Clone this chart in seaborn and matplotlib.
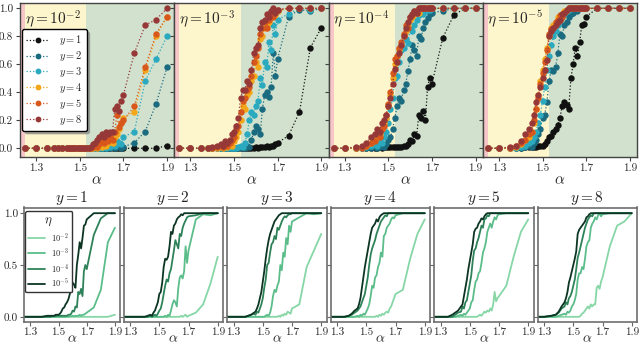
import pandas as pd
import matplotlib.pyplot as plt
import seaborn as sns
from matplotlib.lines import Line2D

# alpha grid shared by all runs
alpha = [1.25, 1.30, 1.35, 1.38, 1.40, 1.42, 1.44, 1.45, 1.46, 1.47, 1.48, 1.49,
         1.50, 1.51, 1.52, 1.53, 1.54, 1.55, 1.56, 1.57, 1.58, 1.59, 1.60, 1.61,
         1.62, 1.63, 1.64, 1.65, 1.66, 1.67, 1.68, 1.69, 1.70, 1.75, 1.80, 1.85, 1.90]

y_values = ['1', '2', '3', '4', '5', '8']
eta_labels = ['10^{-2}', '10^{-3}', '10^{-4}', '10^{-5}']

# eta = 1e-2
eta_2 = {
    '1': [0, 0, 0, 0, 0, 0, 0, 0, 0, 0, 0, 0,
          0, 0, 0, 0, 0, 0, 0, 0, 0, 0, 0, 0,
          0, 0, 0, 0, 0, 0, 0, 0, 0, 0, 0, 0, 0.02],
    '2': [0, 0, 0, 0, 0, 0, 0, 0, 0, 0, 0, 0,
          0, 0, 0, 0, 0, 0, 0, 0, 0, 0, 0, 0,
          0, 0, 0, 0.01, 0, 0.01, 0.02, 0, 0.01, 0.04, 0.12, 0.32, 0.58],
    '3': [0, 0, 0, 0, 0, 0, 0, 0, 0, 0, 0, 0,
          0, 0, 0, 0, 0, 0, 0, 0, 0, 0, 0, 0.01,
          0, 0.02, 0.01, 0.03, 0.02, 0.05, 0.04, 0.03, 0.08, 0.12, 0.48, 0.64, 0.80],
    '4': [0, 0, 0, 0, 0, 0, 0, 0, 0, 0, 0, 0,
          0, 0, 0, 0, 0, 0, 0, 0.01, 0, 0.02, 0.01, 0.03,
          0.02, 0.04, 0.05, 0.04, 0.08, 0.10, 0.14, 0.18, 0.22, 0.26, 0.56, 0.80, 0.94],
    '5': [0, 0, 0, 0, 0, 0, 0, 0, 0, 0, 0, 0,
          0, 0, 0, 0, 0, 0, 0.01, 0.02, 0.01, 0.03, 0.05, 0.04,
          0.06, 0.05, 0.08, 0.06, 0.12, 0.24, 0.15, 0.18, 0.20, 0.30, 0.58, 0.82, 0.94],
    '8': [0, 0, 0, 0, 0, 0, 0, 0, 0, 0, 0, 0,
          0, 0, 0, 0, 0, 0.01, 0.03, 0.04, 0.06, 0.08, 0.10, 0.08,
          0.12, 0.10, 0.12, 0.12, 0.28, 0.30, 0.27, 0.34, 0.38, 0.68, 0.88, 0.92, 1.0],
}

# eta = 1e-3
eta_3 = {
    '1': [0, 0, 0, 0, 0, 0, 0, 0, 0, 0, 0, 0,
          0, 0, 0, 0, 0, 0, 0.005, 0, 0.005, 0.005, 0.01, 0.005,
          0.01, 0.01, 0.01, 0.02, 0.01, 0.02, 0.02, 0.03, 0.04, 0.09, 0.26, 0.72, 0.86],
    '2': [0, 0, 0, 0, 0, 0, 0, 0, 0, 0, 0, 0,
          0, 0, 0, 0, 0.01, 0, 0.02, 0.01, 0.06, 0.12, 0.16, 0.14,
          0.10, 0.28, 0.38, 0.40, 0.37, 0.44, 0.68, 0.52, 0.64, 0.94, 0.99, 0.98, 1.0],
    '3': [0, 0, 0, 0, 0, 0, 0, 0, 0, 0, 0, 0,
          0, 0, 0.01, 0.02, 0.01, 0.04, 0.10, 0.20, 0.26, 0.24, 0.30, 0.34,
          0.50, 0.45, 0.62, 0.58, 0.76, 0.70, 0.88, 0.82, 0.92, 0.96, 1.0, 0.99, 1.0],
    '4': [0, 0, 0, 0, 0, 0, 0.01, 0, 0.02, 0.01, 0.03, 0.02,
          0.05, 0.08, 0.12, 0.20, 0.30, 0.28, 0.38, 0.40, 0.48, 0.52, 0.62, 0.58,
          0.78, 0.80, 0.86, 0.88, 0.90, 0.94, 0.96, 0.95, 0.98, 1.0, 1.0, 1.0, 1.0],
    '5': [0, 0, 0, 0, 0, 0.01, 0.02, 0.01, 0.03, 0.02, 0.04, 0.06,
          0.08, 0.14, 0.16, 0.26, 0.34, 0.36, 0.42, 0.44, 0.52, 0.62, 0.66, 0.72,
          0.82, 0.86, 0.90, 0.86, 0.92, 0.96, 0.94, 0.98, 0.99, 1.0, 1.0, 1.0, 1.0],
    '8': [0, 0, 0, 0, 0.01, 0.02, 0.03, 0.02, 0.05, 0.04, 0.06, 0.10,
          0.12, 0.16, 0.22, 0.36, 0.42, 0.42, 0.48, 0.46, 0.56, 0.68, 0.72, 0.74,
          0.86, 0.90, 0.92, 0.96, 0.94, 0.98, 1.0, 0.97, 0.99, 1.0, 1.0, 1.0, 1.0],
}

# eta = 1e-4
eta_4 = {
    '1': [0, 0, 0, 0, 0, 0, 0, 0.005, 0.01, 0.005, 0.01, 0.01,
          0.01, 0.01, 0.01, 0.01, 0.01, 0.01, 0.01, 0.02, 0.02, 0.03, 0.06, 0.05,
          0.10, 0.09, 0.24, 0.22, 0.27, 0.20, 0.44, 0.50, 0.46, 0.79, 0.95, 1.0, 1.0],
    '2': [0, 0, 0, 0, 0, 0, 0.01, 0, 0.01, 0.02, 0.01, 0.03,
          0.06, 0.08, 0.14, 0.22, 0.30, 0.36, 0.34, 0.42, 0.46, 0.55, 0.64, 0.74,
          0.70, 0.66, 0.80, 0.78, 0.86, 0.90, 0.93, 0.96, 0.97, 0.98, 1.0, 1.0, 1.0],
    '3': [0, 0, 0, 0, 0.01, 0.02, 0.03, 0.02, 0.05, 0.04, 0.08, 0.12,
          0.18, 0.28, 0.36, 0.50, 0.52, 0.62, 0.70, 0.72, 0.78, 0.75, 0.86, 0.84,
          0.88, 0.92, 0.95, 0.97, 0.96, 0.98, 0.99, 0.99, 1.0, 1.0, 1.0, 1.0, 1.0],
    '4': [0, 0, 0, 0.01, 0.02, 0.04, 0.06, 0.08, 0.10, 0.14, 0.18, 0.22,
          0.30, 0.38, 0.50, 0.60, 0.66, 0.70, 0.74, 0.80, 0.84, 0.88, 0.92, 0.94,
          0.96, 0.98, 0.97, 1.0, 1.0, 1.0, 1.0, 1.0, 1.0, 1.0, 1.0, 1.0, 1.0],
    '5': [0, 0, 0, 0, 0.02, 0.04, 0.05, 0.10, 0.08, 0.14, 0.16, 0.24,
          0.32, 0.40, 0.54, 0.64, 0.66, 0.72, 0.76, 0.82, 0.88, 0.86, 0.94, 0.95,
          0.98, 0.97, 1.0, 1.0, 1.0, 1.0, 1.0, 1.0, 1.0, 1.0, 1.0, 1.0, 1.0],
    '8': [0, 0, 0.01, 0.02, 0.04, 0.08, 0.10, 0.14, 0.12, 0.18, 0.20, 0.24,
          0.30, 0.36, 0.46, 0.57, 0.62, 0.68, 0.74, 0.80, 0.86, 0.90, 0.94, 0.96,
          0.98, 0.97, 1.0, 1.0, 1.0, 1.0, 1.0, 1.0, 1.0, 1.0, 1.0, 1.0, 1.0],
}

# eta = 1e-5
eta_5 = {
    '1': [0, 0, 0, 0, 0.005, 0.01, 0.01, 0.01, 0.01, 0.01, 0.02, 0.02,
          0.02, 0.03, 0.05, 0.08, 0.09, 0.12, 0.14, 0.17, 0.22, 0.30, 0.33, 0.31,
          0.28, 0.50, 0.60, 0.72, 0.66, 0.76, 0.88, 0.89, 0.94, 1.0, 1.0, 1.0, 1.0],
    '2': [0, 0, 0, 0, 0, 0.01, 0.02, 0.01, 0.04, 0.06, 0.10, 0.14,
          0.22, 0.24, 0.33, 0.48, 0.56, 0.55, 0.58, 0.68, 0.82, 0.80, 0.88, 0.90,
          0.94, 0.96, 0.97, 0.99, 0.98, 1.0, 1.0, 1.0, 1.0, 1.0, 1.0, 1.0, 1.0],
    '3': [0, 0, 0, 0, 0.01, 0.02, 0.04, 0.05, 0.08, 0.12, 0.18, 0.24,
          0.34, 0.44, 0.56, 0.66, 0.74, 0.80, 0.84, 0.88, 0.92, 0.94, 0.96, 0.98,
          0.99, 1.0, 1.0, 1.0, 1.0, 1.0, 1.0, 1.0, 1.0, 1.0, 1.0, 1.0, 1.0],
    '4': [0, 0, 0, 0.01, 0.03, 0.06, 0.08, 0.12, 0.18, 0.28, 0.38, 0.48,
          0.56, 0.64, 0.72, 0.80, 0.86, 0.88, 0.90, 0.94, 0.92, 0.96, 0.98, 0.99,
          1.0, 1.0, 1.0, 1.0, 1.0, 1.0, 1.0, 1.0, 1.0, 1.0, 1.0, 1.0, 1.0],
    '5': [0, 0, 0, 0.02, 0.04, 0.06, 0.10, 0.12, 0.20, 0.28, 0.36, 0.46,
          0.54, 0.62, 0.70, 0.82, 0.85, 0.86, 0.90, 0.92, 0.95, 0.94, 0.97, 0.99,
          1.0, 1.0, 1.0, 1.0, 1.0, 1.0, 1.0, 1.0, 1.0, 1.0, 1.0, 1.0, 1.0],
    '8': [0, 0, 0.01, 0.02, 0.05, 0.10, 0.14, 0.18, 0.24, 0.33, 0.38, 0.44,
          0.50, 0.56, 0.63, 0.80, 0.84, 0.86, 0.88, 0.90, 0.92, 0.96, 0.97, 0.99,
          1.0, 1.0, 1.0, 1.0, 1.0, 1.0, 1.0, 1.0, 1.0, 1.0, 1.0, 1.0, 1.0],
}

y_colors = {'1': '#111111', '2': '#1b6b80', '3': '#2aa9bf',
            '4': '#f2a71b', '5': '#d8581c', '8': '#973838'}
eta_colors = {'10^{-2}': '#86d6a6', '10^{-3}': '#5bbd8a',
              '10^{-4}': '#2e8259', '10^{-5}': '#0c3523'}

# long table
rows = []
for eta, table in zip(eta_labels, [eta_2, eta_3, eta_4, eta_5]):
    for yv in y_values:
        for a, v in zip(alpha, table[yv]):
            rows.append({'eta': eta, 'y': yv, 'alpha': a, 'val': v})
df = pd.DataFrame(rows)

sns.set_theme(style='ticks')
plt.rcParams['font.family'] = 'cmr10'
plt.rcParams['mathtext.fontset'] = 'cm'
plt.rcParams['axes.formatter.use_mathtext'] = True
plt.rcParams['axes.unicode_minus'] = False

fig = plt.figure(figsize=(6.4, 3.47), dpi=100)
W, H = 640, 347

# ---- top row: one panel per eta ----
top_axes = []
for i, eta in enumerate(eta_labels):
    x0 = 20 + i * 154.25
    ax = fig.add_axes([x0 / W, 1 - 157 / H, 154.25 / W, 154 / H])
    top_axes.append(ax)
    ax.axvspan(1.0, 1.25, color='#f7c6c8', lw=0)
    ax.axvspan(1.25, 1.53, color='#fdf5cc', lw=0)
    ax.axvspan(1.53, 2.0, color='#d1e1cd', lw=0)
    sub = df[df['eta'] == eta]
    sns.lineplot(data=sub, x='alpha', y='val', hue='y', hue_order=y_values,
                 palette=y_colors, marker='o', markersize=4.6, markeredgewidth=0,
                 linestyle=':', linewidth=0.9, estimator=None, legend=False, ax=ax)
    ax.set_xlim(1.226, 1.933)
    ax.set_ylim(-0.062, 1.038)
    ax.set_xticks([1.3, 1.5, 1.7, 1.9])
    ax.set_yticks([0.0, 0.2, 0.4, 0.6, 0.8, 1.0])
    ax.set_xticklabels(['1.3', '1.5', '1.7', '1.9'])
    if i == 0:
        ax.set_yticklabels(['0.0', '0.2', '0.4', '0.6', '0.8', '1.0'])
    else:
        ax.set_yticklabels([])
    ax.set_xlabel(r'$\alpha$', fontsize=11, labelpad=0)
    ax.set_ylabel('')
    ax.text(0.03, 0.965, r'$\eta=' + eta + '$', transform=ax.transAxes,
            fontsize=11, va='top', ha='left')
    ax.tick_params(labelsize=8, length=3, width=0.8, color='#444444', pad=2)
    for s in ax.spines.values():
        s.set_color('#444444')
        s.set_linewidth(1.0)

handles = [Line2D([0], [0], color=y_colors[yv], marker='o', ls=':', lw=0.9,
                  ms=4.2, mew=0) for yv in y_values]
labels = [r'$y=' + yv + '$' for yv in y_values]
leg = top_axes[0].legend(handles, labels, loc='upper left', bbox_to_anchor=(0.015, 0.83),
                         borderaxespad=0, fontsize=7.5, handlelength=2.2,
                         handletextpad=0.9, labelspacing=0.18, borderpad=0.4,
                         frameon=True, fancybox=True,
                         shadow={'color': '0.5', 'alpha': 0.6})
leg.get_frame().set_edgecolor('black')
leg.get_frame().set_linewidth(1.0)
leg.get_frame().set_facecolor('white')
leg.get_frame().set_alpha(1)

# ---- bottom row: one panel per y ----
lefts = [24, 123.5, 227, 330.5, 434, 537.5]
widths = [96, 99.5, 99.5, 99.5, 99.5, 99.5]
bot_axes = []
for j, yv in enumerate(y_values):
    ax = fig.add_axes([lefts[j] / W, 1 - 322 / H, widths[j] / W, 114.5 / H])
    bot_axes.append(ax)
    sub = df[df['y'] == yv]
    sns.lineplot(data=sub, x='alpha', y='val', hue='eta', hue_order=eta_labels,
                 palette=eta_colors, linewidth=1.3, estimator=None, legend=False, ax=ax)
    ax.set_xlim(1.255, 1.936)
    ax.set_ylim(-0.05, 1.055)
    ax.set_xticks([1.3, 1.5, 1.7, 1.9])
    ax.set_xticklabels(['1.3', '1.5', '1.7', '1.9'])
    ax.set_yticks([0.0, 0.5, 1.0])
    if j == 0:
        ax.set_yticklabels(['0.0', '0.5', '1.0'])
    else:
        ax.set_yticklabels([])
    ax.set_title(r'$y=' + yv + '$', fontsize=11, pad=2)
    ax.set_xlabel(r'$\alpha$', fontsize=10, labelpad=-3)
    ax.set_ylabel('')
    ax.tick_params(labelsize=8, length=3, width=0.8, color='#666666', pad=1.2)
    for s in ax.spines.values():
        s.set_color('#6e6e6e')
        s.set_linewidth(1.2)

handles = [Line2D([0], [0], color=eta_colors[e], lw=1.3) for e in eta_labels]
labels = [r'$' + e + '$' for e in eta_labels]
leg2 = bot_axes[0].legend(handles, labels, title=r'$\eta$', loc='upper left',
                          bbox_to_anchor=(0.01, 0.97), borderaxespad=0, fontsize=6,
                          title_fontsize=9.5, handlelength=2.0, handletextpad=0.8,
                          labelspacing=0.3, borderpad=0.35, frameon=True, fancybox=True)
leg2.get_frame().set_edgecolor('#333333')
leg2.get_frame().set_linewidth(1.0)
leg2.get_frame().set_alpha(1)

plt.savefig('out.png', dpi=100)
